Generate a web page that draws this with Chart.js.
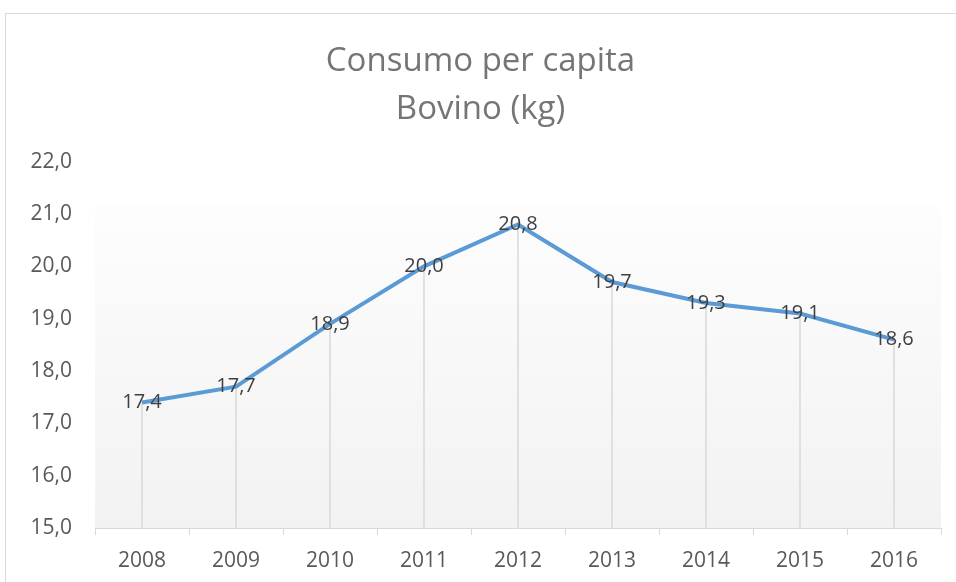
<!DOCTYPE html>
<html>
<head>
<meta charset="utf-8">
<script src="https://cdn.jsdelivr.net/npm/chart.js@4"></script>
<style>
  html, body { margin: 0; padding: 0; background: #fff; }
  #frame { position: absolute; left: 5px; top: 13px; width: 960px; height: 580px; border: 1px solid #d9d9d9; box-sizing: border-box; }
  #wrap { position: absolute; left: 0; top: 0; width: 956px; height: 582px; }
</style>
</head>
<body>
<div id="frame"></div>
<div id="wrap"><canvas id="bovinoChart" width="956" height="582"></canvas></div>
<script>
const years = ['2008', '2009', '2010', '2011', '2012', '2013', '2014', '2015', '2016'];
const consumo = [17.4, 17.7, 18.9, 20.0, 20.8, 19.7, 19.3, 19.1, 18.6];
const titleLines = ['Consumo per capita', 'Bovino (kg)'];
const yMin = 15, yMax = 22, yStep = 1;

function fmt(v) {
    return Number(v).toFixed(1).replace('.', ',');
}

// gradient behind the plot, like the Excel plot area
const plotBg = {
    id: 'plotBg',
    beforeDatasetsDraw(chart) {
        const { ctx, chartArea } = chart;
        const top = chartArea.top + 45;
        const g = ctx.createLinearGradient(0, top, 0, chartArea.bottom);
        g.addColorStop(0, '#fdfdfd');
        g.addColorStop(1, '#f2f2f2');
        ctx.save();
        ctx.fillStyle = g;
        ctx.fillRect(chartArea.left, top, chartArea.right - chartArea.left, chartArea.bottom - top);
        // drop lines from each point to the axis
        const meta = chart.getDatasetMeta(0);
        ctx.strokeStyle = '#d9d9d9';
        ctx.lineWidth = 1.5;
        meta.data.forEach(function (pt) {
            ctx.beginPath();
            ctx.moveTo(pt.x, pt.y);
            ctx.lineTo(pt.x, chartArea.bottom);
            ctx.stroke();
        });
        ctx.restore();
    },
    afterDatasetsDraw(chart) {
        const { ctx } = chart;
        const meta = chart.getDatasetMeta(0);
        ctx.save();
        ctx.font = '20px "Open Sans"';
        ctx.fillStyle = '#404040';
        ctx.textAlign = 'center';
        ctx.textBaseline = 'middle';
        meta.data.forEach(function (pt, i) {
            ctx.fillText(fmt(consumo[i]), pt.x, pt.y);
        });
        ctx.restore();
    }
};

const canvas = document.getElementById('bovinoChart');
const ctx = canvas.getContext('2d');

canvas.chart = new Chart(ctx, {
    type: 'line',
    data: {
        labels: years,
        datasets: [{
            label: 'Bovino',
            data: consumo,
            borderColor: '#5b9bd5',
            borderWidth: 4,
            pointRadius: 0,
            tension: 0,
            fill: false
        }]
    },
    options: {
        responsive: false,
        animation: false,
        layout: {
            padding: { top: 13, left: 20, right: 15, bottom: 0 }
        },
        scales: {
            x: {
                offset: true,
                grid: {
                    display: true,
                    offset: true,
                    drawOnChartArea: false,
                    drawTicks: true,
                    tickLength: 7,
                    color: '#d9d9d9'
                },
                border: { display: true, color: '#d9d9d9', width: 1 },
                ticks: {
                    color: '#595959',
                    font: { family: 'Open Sans', size: 21 },
                    padding: 13,
                    maxRotation: 0
                },
                afterFit: function (scale) { scale.height = 54; }
            },
            y: {
                min: yMin,
                max: yMax,
                grid: { display: false, drawTicks: false },
                border: { display: false },
                ticks: {
                    stepSize: yStep,
                    color: '#595959',
                    font: { family: 'Open Sans', size: 21 },
                    padding: 23,
                    callback: function (v) { return fmt(v); }
                },
                afterFit: function (scale) { scale.width = 75; }
            }
        },
        plugins: {
            legend: { display: false },
            tooltip: { enabled: false },
            title: {
                display: true,
                text: titleLines,
                color: '#757575',
                font: { family: 'Open Sans', size: 33, weight: 'normal', lineHeight: 1.45 },
                padding: { top: 25, bottom: 28 }
            }
        }
    },
    plugins: [plotBg]
});
</script>
</body>
</html>
